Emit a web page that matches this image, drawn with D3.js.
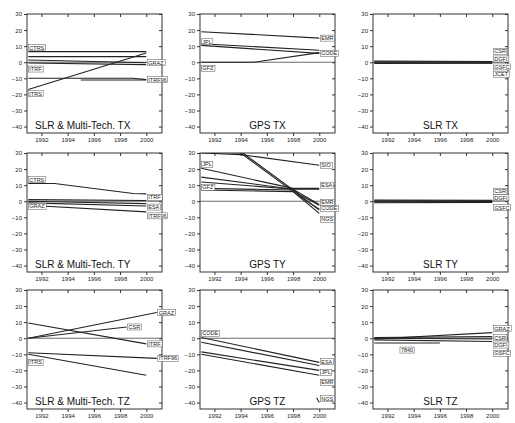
<!DOCTYPE html>
<html><head><meta charset="utf-8">
<script src="https://cdn.jsdelivr.net/npm/d3@7"></script>
<style>body{margin:0;background:#fff;}svg{display:block;}</style>
</head><body>
<svg id="c" width="515" height="423"></svg>
<script>
// ---- data ----
const xTicks = [1992, 1994, 1996, 1998, 2000];
const yTicks = [30, 20, 10, 0, -10, -20, -30, -40];
const panelTitles = ["SLR & Multi-Tech. TX", "GPS TX", "SLR TX",
                     "SLR & Multi-Tech. TY", "GPS TY", "SLR TY",
                     "SLR & Multi-Tech. TZ", "GPS TZ", "SLR TZ"];

// each series: label, years, values (mm), side of label
const slrMultiTX = [
  {label: "CTRS", years: [1991, 2000], values: [6.6, 6.6], side: "left", dy: -4},
  {label: "", years: [1991, 2000], values: [3.5, 3.5], side: "none"},
  {label: "GRAZ", years: [1991, 1996, 2000], values: [1.4, 0.5, -0.3], side: "right"},
  {label: "ITRF", years: [1991, 2000], values: [-0.5, -1.5], side: "left", dy: 6},
  {label: "ITRF96", years: [1991, 1999, 2000], values: [-10, -10, -10.8], side: "right"},
  {label: "", years: [1995, 2000], values: [-11, -11], side: "none"},
  {label: "ITRS", years: [1991, 2000], values: [-17, 5.7], side: "left", dy: 4}
];
const gpsTX = [
  {label: "EMR", years: [1991, 2000], values: [19, 15], side: "right"},
  {label: "JPL", years: [1991, 2000], values: [11.5, 7.5], side: "left", dy: -2},
  {label: "CODE", years: [1991, 2000], values: [10.5, 5.5], side: "right"},
  {label: "GFZ", years: [1991, 1995, 2000], values: [0, 0, 6], side: "left", dy: 6}
];
const slrTX = [
  {label: "CSR", years: [1991, 2000], values: [0.8, 0.5], side: "right", dy: -10},
  {label: "DGFI", years: [1991, 2000], values: [0.3, 0.2], side: "right", dy: -3},
  {label: "GSFC", years: [1991, 2000], values: [-0.3, -0.4], side: "right", dy: 4},
  {label: "JCET", years: [1991, 2000], values: [-0.8, -0.6], side: "right", dy: 11}
];
const slrMultiTY = [
  {label: "CTRS", years: [1991, 1993, 1999, 2000], values: [11, 11, 4.8, 4.6], side: "left", dy: -4},
  {label: "ITRF", years: [1991, 2000], values: [1, 0.5], side: "right", dy: -3},
  {label: "GRAZ", years: [1991, 2000], values: [0, -1.5], side: "left", dy: 5},
  {label: "ESA", years: [1991, 2000], values: [-1, -3], side: "right", dy: 1},
  {label: "ITRF96", years: [1991, 2000], values: [-2.5, -6.6], side: "right", dy: 4}
];
const gpsTY = [
  {label: "SIO", years: [1991, 1994, 2000], values: [30, 29, 22.4], side: "right"},
  {label: "", years: [1991, 1994, 1998.5, 2000], values: [31, 30, 3, -5], side: "none"},
  {label: "EMR", years: [1991, 1994, 1998.5, 2000], values: [33, 31, 4, -2.5], side: "right", dy: -3},
  {label: "JPL", years: [1991, 1998, 2000], values: [20.5, 8, 8], side: "left", dy: -4},
  {label: "ESA", years: [1991, 1998, 2000], values: [15, 7.5, 7.5], side: "right", dy: -4},
  {label: "GFZ", years: [1991, 1998, 2000], values: [8, 7, -5.5], side: "left", dy: -1},
  {label: "CODE", years: [1991, 1998, 2000], values: [12, 7.5, -2], side: "right", dy: 4},
  {label: "NGS", years: [1991, 1998, 2000], values: [7, 6, -7.5], side: "right", dy: 6}
];
const slrTY = [
  {label: "CSR", years: [1991, 2000], values: [0.8, 0.6], side: "right", dy: -9},
  {label: "DGFI", years: [1991, 2000], values: [0.2, 0.3], side: "right", dy: -3},
  {label: "GSFC", years: [1991, 2000], values: [-0.4, -0.2], side: "right", dy: 6},
  {label: "", years: [1991, 2000], values: [-0.9, -0.7], side: "none"}
];
const slrMultiTZ = [
  {label: "GRAZ", years: [1991, 2000.8], values: [0, 16], side: "right"},
  {label: "CSR", years: [1991, 1998.5], values: [0, 7], side: "right", dy: 0},
  {label: "ITRF", years: [1991, 2000], values: [9.5, -3.5], side: "right"},
  {label: "ITRF96", years: [1991, 2000.8], values: [-9, -12.5], side: "right"},
  {label: "ITRS", years: [1991, 2000], values: [-10, -23], side: "left", dy: 8}
];
const gpsTZ = [
  {label: "CODE", years: [1991, 2000], values: [0.5, -15], side: "left", dy: -4},
  {label: "ESA", years: [1991, 2000], values: [-2.5, -17], side: "right", dy: -4},
  {label: "JPL", years: [1991, 2000], values: [-8.5, -20], side: "right", dy: 2},
  {label: "EMR", years: [1991, 2000], values: [-10, -23], side: "right", dy: 7},
  {label: "NGS", years: [1999.8, 2000], values: [-37, -40], side: "right", dy: -4}
];
const slrTZ = [
  {label: "GRAZ", years: [1991, 2000], values: [-0.5, 3.5], side: "right", dy: -4},
  {label: "CSR", years: [1991, 2000], values: [0.5, 1.0], side: "right", dy: 1},
  {label: "DGFI", years: [1991, 2000], values: [0, -0.5], side: "right", dy: 6},
  {label: "GSFC", years: [1991, 2000], values: [-1, -2], side: "right", dy: 12},
  {label: "7840", years: [1991, 1996], values: [-3, -3], side: "mid"}
];
const panelSeries = [slrMultiTX, gpsTX, slrTX, slrMultiTY, gpsTY, slrTY, slrMultiTZ, gpsTZ, slrTZ];

// ---- layout ----
const colLeft = [27, 200, 373];
const rowTop = [14, 153, 290];
const pw = 135, ph = 119;
const svg = d3.select("#c");

panelSeries.forEach((series, i) => {
  const r = Math.floor(i / 3), c = i % 3;
  const g = svg.append("g").attr("transform", `translate(${colLeft[c]},${rowTop[r]})`);
  const x = d3.scaleLinear().domain([1990.9, 2001.2]).range([0, pw]);
  const y = d3.scaleLinear().domain([-44, 30]).range([ph, 0]);
  const clipId = "clip" + i;
  g.append("clipPath").attr("id", clipId).append("rect").attr("width", pw).attr("height", ph);

  // axes
  const ax = (gen, tr) => {
    const a = g.append("g").attr("transform", tr).call(gen);
    a.select(".domain").remove();
    a.selectAll("line").attr("stroke", "#333");
    a.selectAll("text").attr("font-family", "Liberation Sans, Arial, sans-serif").attr("font-size", 6).attr("fill", "#222");
    return a;
  };
  ax(d3.axisLeft(y).tickValues(yTicks).tickSize(3).tickPadding(2), "translate(0,0)");
  ax(d3.axisRight(y).tickValues(yTicks).tickSize(-3).tickFormat(""), `translate(${pw},0)`);
  ax(d3.axisBottom(x).tickValues(xTicks).tickSize(3).tickPadding(2).tickFormat(d3.format("d")), `translate(0,${ph})`);
  ax(d3.axisTop(x).tickValues(xTicks).tickSize(-3).tickFormat(""), "translate(0,0)");

  // frame
  g.append("rect").attr("width", pw).attr("height", ph).attr("fill", "none").attr("stroke", "#333").attr("stroke-width", 1);
  // zero line
  g.append("line").attr("x1", 0).attr("x2", pw).attr("y1", y(0)).attr("y2", y(0)).attr("stroke", "#444").attr("stroke-width", 0.8);

  const line = d3.line().x(d => x(d[0])).y(d => y(d[1]));
  const lg = g.append("g").attr("clip-path", `url(#${clipId})`);
  series.forEach(s => {
    const pts = s.years.map((yr, k) => [yr, s.values[k]]);
    lg.append("path").attr("d", line(pts)).attr("fill", "none").attr("stroke", "#222").attr("stroke-width", 1.1);
  });
  // labels
  series.forEach(s => {
    if (s.side === "none") return;
    const n = s.years.length - 1;
    let lx, ly, anchor;
    if (s.side === "left") { lx = x(s.years[0]) + 1; ly = y(s.values[0]) + (s.dy || 0); anchor = "start"; }
    else if (s.side === "mid") { lx = (x(s.years[0]) + x(s.years[n])) / 2; ly = y(s.values[0]) + 7; anchor = "middle"; }
    else { lx = x(s.years[n]) + 2; ly = y(s.values[n]) + (s.dy || 0); anchor = "start"; }
    const t = g.append("text").attr("x", lx).attr("y", ly + 2).attr("text-anchor", anchor)
      .attr("font-family", "Liberation Sans, Arial, sans-serif").attr("font-size", 5.5).attr("fill", "#222").text(s.label);
    const bb = t.node().getBBox();
    g.insert("rect", () => t.node()).attr("x", bb.x - 1).attr("y", bb.y).attr("width", bb.width + 2).attr("height", bb.height)
      .attr("fill", "#fff").attr("stroke", "#555").attr("stroke-width", 0.5);
  });

  // title
  const isMulti = c === 0;
  g.append("text").attr("x", isMulti ? 8 : pw / 2).attr("y", ph - 4)
    .attr("text-anchor", isMulti ? "start" : "middle")
    .attr("font-family", "Liberation Sans, Arial, sans-serif").attr("font-size", 10).attr("fill", "#111")
    .text(panelTitles[i]);
});
</script>
</body></html>
